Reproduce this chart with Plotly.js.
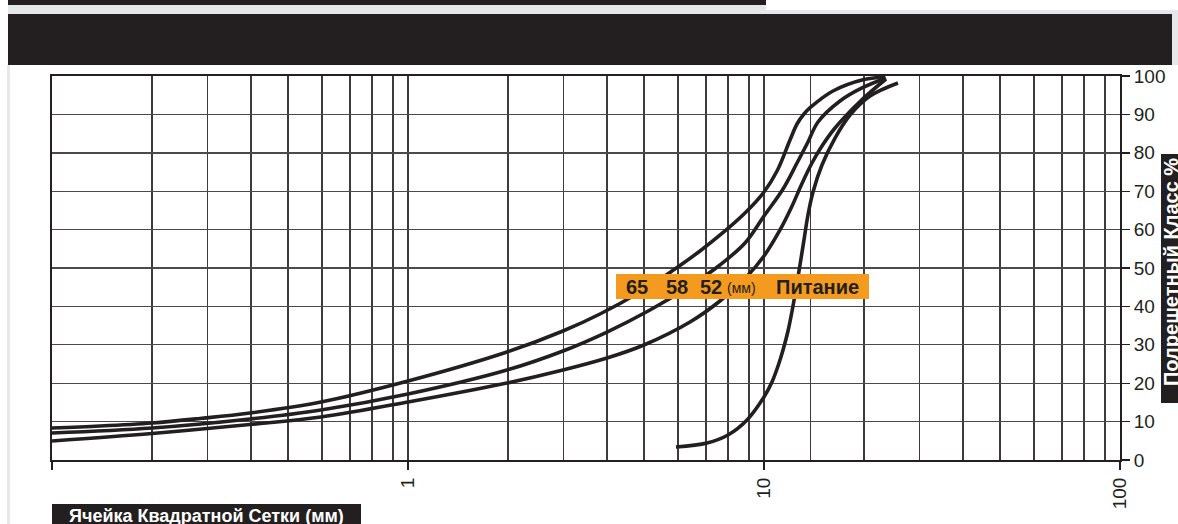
<!DOCTYPE html>
<html>
<head>
<meta charset="utf-8">
<script src="https://cdn.plot.ly/plotly-3.0.1.min.js"></script>
<style>
  html, body { margin: 0; padding: 0; background: #ffffff; }
  #chart { width: 1178px; height: 524px; }
</style>
</head>
<body>
<div id="chart"></div>
<script>
// Sieve analysis: cumulative percent passing vs square mesh size (mm), log scale.
const sizes65 = [0.1, 0.1364, 0.191, 0.2604, 0.3598, 0.5694, 1, 1.897, 2.725, 3.462, 4.484, 5.515, 6.611, 7.77, 8.843, 10, 10.88, 11.83, 12.38, 12.95, 13.55, 15.62, 18.85, 21.88];
const pass65  = [8.33, 8.85, 9.64, 10.81, 12.24, 15.1, 20.57, 28.13, 33.59, 38.02, 43.75, 49.22, 54.43, 59.64, 64.32, 69.79, 75.26, 83.33, 87.5, 90.1, 91.93, 96.09, 98.96, 99.74];

const sizes58 = [0.1, 0.191, 0.3598, 0.5694, 1, 1.897, 2.725, 3.622, 4.784, 6.197, 7.521, 8.843, 10, 11.31, 12.38, 13.29, 14.18, 16.35, 18.85, 22.01];
const pass58  = [7.03, 8.33, 10.68, 13.02, 17.19, 23.44, 28.39, 33.33, 39.06, 45.31, 50.78, 56.51, 63.54, 70.57, 77.34, 82.81, 88.02, 93.49, 96.88, 99.48];

const sizes52 = [0.1, 0.191, 0.3598, 0.5694, 1, 1.897, 2.725, 3.622, 4.6, 6.197, 7.521, 8.843, 10, 11.09, 11.99, 12.62, 13.12, 13.64, 14.55, 15.83, 18.61, 22.01];
const pass52  = [4.95, 6.9, 9.24, 11.2, 15.1, 20.05, 23.44, 26.56, 29.95, 35.94, 41.41, 47.27, 53.13, 59.9, 66.15, 70.83, 74.22, 77.34, 81.77, 86.46, 93.36, 99.22];

const sizesFeed = [5.66, 6.918, 7.922, 8.959, 10, 10.53, 10.95, 11.31, 11.68, 11.99, 12.3, 12.62, 12.95, 13.29, 13.73, 14.55, 15.83, 17.44, 19.86, 23.79];
const passFeed  = [3.39, 4.43, 6.51, 10.42, 16.41, 20.31, 24.48, 28.65, 33.59, 38.8, 44.53, 50.78, 57.29, 63.8, 69.79, 76.82, 83.85, 89.84, 94.79, 98.18];

const curveLabels = ['65', '58', '52'];
const unitLabel = '(мм)';
const feedLabel = 'Питание';
const xTitle = 'Ячейка Квадратной Сетки (мм)';
const yTitle = 'Полрешетный Класс %';

const majorTicks = [0.1, 1, 10, 100];
const majorText = ['', '1', '10', '100'];
const decadeStarts = [0.1, 1, 10];
const gridSteps = [1.91, 2.74, 3.62, 4.6, 5.73, 6.87, 7.93, 9.08];
const extraGrid = [13.5];

const minorVals = [];
decadeStarts.forEach(d => gridSteps.forEach(s => minorVals.push(+(d * s).toPrecision(4))));
extraGrid.forEach(v => minorVals.push(v));

// page geometry (pixels) -> paper coordinates
const PW = 1178, PH = 524, ML = 52, MR = 58, MT = 76, MB = 64;
const plotW = PW - ML - MR, plotH = PH - MT - MB;
const px = x => (x - ML) / plotW;
const py = y => (PH - MB - y) / plotH;
const rect = (x0, y0, x1, y1, color) => ({
  type: 'rect', xref: 'paper', yref: 'paper',
  x0: px(x0), x1: px(x1), y0: py(y1), y1: py(y0),
  fillcolor: color, line: { width: 0 }, layer: 'above'
});

const ink = '#231f20';
const lineStyle = { color: ink, width: 3.6, shape: 'spline', smoothing: 1 };
const mk = (x, y, name) => ({ x, y, name, type: 'scatter', mode: 'lines', line: lineStyle, hoverinfo: 'x+y+name' });

const data = [
  mk(sizes65, pass65, curveLabels[0]),
  mk(sizes58, pass58, curveLabels[1]),
  mk(sizes52, pass52, curveLabels[2]),
  mk(sizesFeed, passFeed, feedLabel)
];

const narrow = '"Liberation Sans Narrow", "Arial Narrow", "Liberation Sans", Arial, sans-serif';
const sans = '"Liberation Sans", Arial, Helvetica, sans-serif';

const shapes = [
  rect(8, 0, 766, 5, ink),
  rect(8, 5, 766, 14, '#e6e7e8'),
  rect(766, 10, 1178, 14, '#e6e7e8'),
  rect(8, 14, 1172, 65, ink),
  rect(1172, 10, 1178, 65, '#e6e7e8'),
  rect(7, 65, 10, 524, '#e6e7e8'),
  rect(52, 504, 361, 524, ink),
  rect(1161, 154, 1178, 403, ink),
  rect(616, 274, 869, 299, '#f39a1f')
];

const ann = (x, y, text, opts) => Object.assign({
  xref: 'paper', yref: 'paper', x: px(x), y: py(y), text, showarrow: false,
  xanchor: 'center', yanchor: 'middle'
}, opts);

const annotations = [
  ann(637, 287, curveLabels[0], { font: { family: narrow, size: 20, color: ink, weight: 'bold' } }),
  ann(677, 287, curveLabels[1], { font: { family: narrow, size: 20, color: ink, weight: 'bold' } }),
  ann(711, 287, curveLabels[2], { font: { family: narrow, size: 20, color: ink, weight: 'bold' } }),
  ann(741, 288, unitLabel, { font: { family: sans, size: 14, color: ink } }),
  ann(817, 287, '<b>' + feedLabel + '</b>', { font: { family: sans, size: 20, color: ink } }),
  ann(206, 516, '<b>' + xTitle + '</b>', { font: { family: sans, size: 18, color: '#ffffff' } }),
  ann(1171, 272, '<b>' + yTitle + '</b>', { textangle: -90, font: { family: sans, size: 20, color: '#ffffff' } })
];

const layout = {
  width: PW, height: PH,
  margin: { l: ML, r: MR, t: MT, b: MB, pad: 0 },
  paper_bgcolor: '#ffffff', plot_bgcolor: '#ffffff',
  showlegend: false,
  xaxis: {
    type: 'log', range: [-1, 2],
    tickmode: 'array', tickvals: majorTicks, ticktext: majorText,
    ticks: 'outside', ticklen: 8, tickwidth: 1.4, tickcolor: ink,
    tickangle: -90, tickfont: { family: narrow, size: 19, color: ink },
    showgrid: true, gridcolor: '#3c3c3c', gridwidth: 1.3,
    minor: { tickmode: 'array', tickvals: minorVals, showgrid: true, gridcolor: '#3c3c3c', gridwidth: 1.3, ticks: '' },
    showline: true, mirror: true, linecolor: ink, linewidth: 2,
    zeroline: false, fixedrange: true
  },
  yaxis: {
    side: 'right', range: [0, 100], dtick: 10, tick0: 0,
    ticks: 'outside', ticklen: 8, tickwidth: 1.4, tickcolor: ink,
    tickfont: { family: narrow, size: 19, color: ink },
    showgrid: true, gridcolor: '#4a4a4a', gridwidth: 1.4,
    showline: true, mirror: true, linecolor: ink, linewidth: 2,
    zeroline: false, fixedrange: true
  },
  shapes, annotations
};

Plotly.newPlot('chart', data, layout, { staticPlot: true, displayModeBar: false });
</script>
</body>
</html>
